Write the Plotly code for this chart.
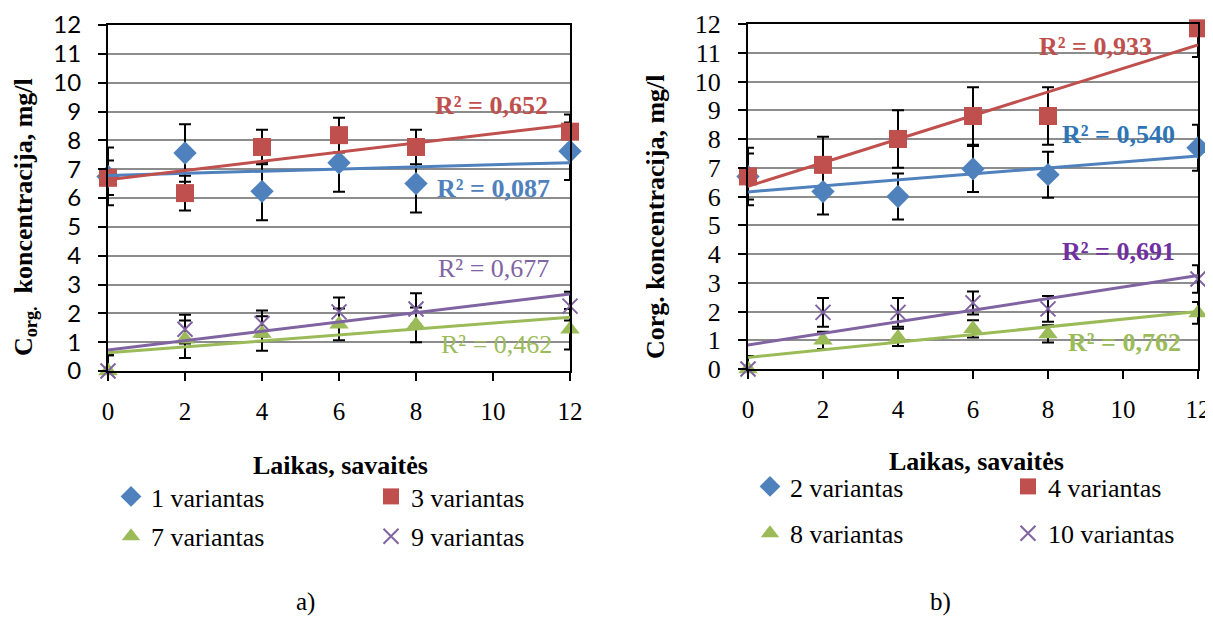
import numpy as np
import plotly.graph_objects as go

# page body keeps an 8 px margin, so the figure is drawn 8 px in from the window corner
OFF = 8
W, H = 1213 - OFF, 618 - OFF

weeks = [0, 2, 4, 6, 8, 12]
x_ticks = [0, 2, 4, 6, 8, 10, 12]
y_ticks = list(range(0, 13))

# ---- panel a) ----
a_names = ["1 variantas", "3 variantas", "7 variantas", "9 variantas"]
a_v1 = [6.75, 7.56, 6.23, 7.22, 6.50, 7.62]
a_v1_err = [1.00, 1.00, 1.00, 1.00, 1.00, 1.00]
a_v3 = [6.70, 6.17, 7.77, 8.18, 7.77, 8.30]
a_v3_err = [0.60, 0.60, 0.60, 0.60, 0.60, 0.60]
a_v7 = [0.00, 1.10, 1.30, 1.62, 1.60, 1.45]
a_v7_err = [0.55, 0.65, 0.60, 0.55, 0.60, 0.70]
a_v9 = [0.00, 1.45, 1.65, 2.05, 2.15, 2.25]
a_v9_err = [0.55, 0.50, 0.45, 0.50, 0.55, 0.50]
a_r2 = ["R² = 0,087", "R² = 0,652", "R² = 0,462", "R² = 0,677"]

# ---- panel b) ----
b_names = ["2 variantas", "4 variantas", "8 variantas", "10 variantas"]
b_v2 = [6.70, 6.17, 6.00, 6.96, 6.76, 7.70]
b_v2_err = [0.80, 0.80, 0.80, 0.80, 0.80, 0.80]
b_v4 = [6.70, 7.10, 8.00, 8.80, 8.80, 11.85]
b_v4_err = [1.00, 0.98, 1.00, 1.00, 1.00, 1.00]
b_v8 = [0.00, 1.00, 1.10, 1.40, 1.22, 1.95]
b_v8_err = [0.45, 0.30, 0.30, 0.30, 0.30, 0.38]
b_v10 = [0.00, 1.97, 1.97, 2.30, 2.09, 3.13]
b_v10_err = [0.45, 0.50, 0.50, 0.40, 0.45, 0.48]
b_r2 = ["R² = 0,540", "R² = 0,933", "R² = 0,762", "R² = 0,691"]

BLUE, RED, GREEN, PURPLE = "#4F81BD", "#C0504D", "#9BBB59", "#8064A2"
SERIF = "Liberation Serif, Times New Roman, serif"
SANS = "Lato, Liberation Sans, sans-serif"

fig = go.Figure()

styles = [
    (BLUE, "diamond", 18),
    (RED, "square", 18),
    (GREEN, "triangle-up", 17),
    (PURPLE, "x-thin", 15),
]

panels = [
    ("x", "y", a_names, [a_v1, a_v3, a_v7, a_v9], [a_v1_err, a_v3_err, a_v7_err, a_v9_err],
     ["legend", "legend2", "legend", "legend2"]),
    ("x2", "y2", b_names, [b_v2, b_v4, b_v8, b_v10], [b_v2_err, b_v4_err, b_v8_err, b_v10_err],
     ["legend3", "legend4", "legend3", "legend4"]),
]

# error bars first
for xa, ya, names, vals, errs, legs in panels:
    for name, v, e in zip(names, vals, errs):
        fig.add_trace(go.Scatter(
            x=weeks, y=v, xaxis=xa, yaxis=ya, mode="markers",
            marker=dict(size=1, color="rgba(0,0,0,0)"),
            error_y=dict(type="data", array=e, visible=True, color="black",
                         thickness=2, width=6),
            showlegend=False, hoverinfo="skip", legendgroup=name,
        ))

# markers
for xa, ya, names, vals, errs, legs in panels:
    for (color, sym, size), name, v, lg in zip(styles, names, vals, legs):
        if sym == "x-thin":
            mk = dict(symbol=sym, size=size, color=color, line=dict(width=2, color=color))
        else:
            mk = dict(symbol=sym, size=size, color=color, line=dict(width=0))
        fig.add_trace(go.Scatter(
            x=weeks, y=v, xaxis=xa, yaxis=ya, mode="markers", marker=mk,
            name=name, legend=lg, legendgroup=name, cliponaxis=False,
        ))

# linear trend lines (least squares fit of each series)
for xa, ya, names, vals, errs, legs in panels:
    for (color, sym, size), name, v in zip(styles, names, vals):
        k, b = np.polyfit(weeks, v, 1)
        xs = [min(weeks), max(weeks)]
        fig.add_trace(go.Scatter(
            x=xs, y=[k * xx + b for xx in xs], xaxis=xa, yaxis=ya, mode="lines",
            line=dict(color=color, width=3), showlegend=False, hoverinfo="skip",
        ))

def px_x(p):
    return (p - OFF) / W

def px_y(p):
    return 1 - (p - OFF) / H

xaxis_common = dict(
    range=[0, 12], tickvals=x_ticks, showgrid=False, zeroline=False,
    showline=True, linecolor="black", linewidth=2, mirror=True,
    ticks="outside", ticklen=8, tickwidth=2, tickcolor="black",
    tickfont=dict(family=SERIF, size=25, color="black"),
    ticklabelstandoff=9, automargin=False,
)
yaxis_common = dict(
    range=[0, 12], tickvals=y_ticks, showgrid=True, gridcolor="#8C8C8C", gridwidth=1.5,
    zeroline=False, showline=True, linecolor="black", linewidth=2, mirror=True,
    ticks="outside", ticklen=8, tickwidth=2, tickcolor="black",
    ticklabelstandoff=12, automargin=False,
)

fig.update_layout(
    width=W, height=H, paper_bgcolor="white", plot_bgcolor="white",
    margin=dict(l=0, r=0, t=0, b=0, pad=0, autoexpand=False),
    xaxis=dict(domain=[px_x(108), px_x(570)], anchor="y", **xaxis_common),
    yaxis=dict(domain=[px_y(371), px_y(25)], anchor="x",
               tickfont=dict(family=SANS, size=24, color="black"), **yaxis_common),
    xaxis2=dict(domain=[px_x(748), px_x(1198)], anchor="y2", **xaxis_common),
    yaxis2=dict(domain=[px_y(369), px_y(24)], anchor="x2",
                tickfont=dict(family=SERIF, size=26, color="black"), **yaxis_common),
    showlegend=True,
)

leg_common = dict(xanchor="left", yanchor="top", orientation="v",
                  bgcolor="rgba(0,0,0,0)", font=dict(family=SERIF, size=26, color="black"),
                  itemclick=False, itemdoubleclick=False)
fig.update_layout(
    legend=dict(x=px_x(111), y=px_y(473), tracegroupgap=3, **leg_common),
    legend2=dict(x=px_x(371), y=px_y(473), tracegroupgap=3, **leg_common),
    legend3=dict(x=px_x(750), y=px_y(463), tracegroupgap=10, **leg_common),
    legend4=dict(x=px_x(1008), y=px_y(463), tracegroupgap=10, **leg_common),
)

ann = []
# R² labels (panel a)
a_r2_pos = [(10.0, 6.32, BLUE, True), (9.95, 9.22, RED, True),
            (10.1, 0.92, GREEN, False), (10.0, 3.54, PURPLE, False)]
for txt, (xx, yy, c, bold) in zip(a_r2, a_r2_pos):
    ann.append(dict(x=xx, y=yy, xref="x", yref="y", text=f"<b>{txt}</b>" if bold else txt,
                    xanchor="center", yanchor="middle",
                    showarrow=False, font=dict(family=SERIF, size=26, color=c)))
b_r2_pos = [(9.89, 8.15, "#2E75B6"), (9.27, 11.23, RED), (10.03, 0.92, GREEN), (9.89, 4.08, "#7030A0")]
for txt, (xx, yy, c) in zip(b_r2, b_r2_pos):
    ann.append(dict(x=xx, y=yy, xref="x2", yref="y2", text=f"<b>{txt}</b>",
                    xanchor="center", yanchor="middle",
                    showarrow=False, font=dict(family=SERIF, size=26, color=c)))

def paper_text(xp, yp, text, angle=0, size=26):
    return dict(x=px_x(xp), y=px_y(yp), xref="paper", yref="paper", text=text,
                textangle=angle, xanchor="center", yanchor="middle", showarrow=False,
                font=dict(family=SERIF, size=size, color="black"))

# axis titles and panel labels
ann.append(paper_text(25, 217, "<b>C<sub>org.</sub>  koncentracija, mg/l</b>", -90))
ann.append(paper_text(656, 217, "<b>Corg. koncentracija, mg/l</b>", -90))
ann.append(paper_text(340, 465, "<b>Laikas, savaitės</b>"))
ann.append(paper_text(976, 461, "<b>Laikas, savaitės</b>"))
ann.append(paper_text(305, 602, "a)", size=25))
ann.append(paper_text(940, 602, "b)", size=25))
fig.update_layout(annotations=ann)

fig.write_html("out.html")
